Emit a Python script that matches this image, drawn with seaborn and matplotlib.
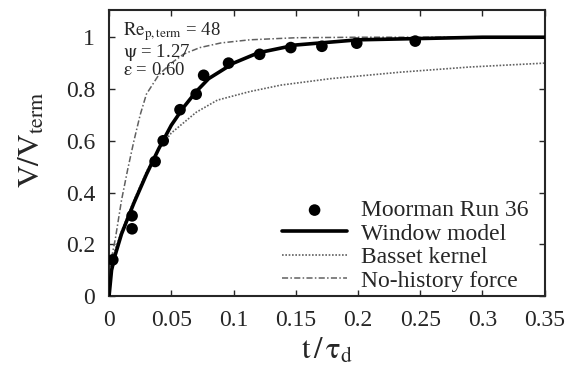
import matplotlib
matplotlib.use("Agg")
import matplotlib.pyplot as plt
import seaborn as sns
import pandas as pd

# Moorman Run 36 data
exp_t = [0.003, 0.0185, 0.0185, 0.037, 0.0435, 0.057, 0.070, 0.076, 0.096, 0.121, 0.146, 0.171, 0.199, 0.246]
exp_v = [0.14, 0.31, 0.26, 0.52, 0.60, 0.72, 0.78, 0.853, 0.90, 0.934, 0.96, 0.965, 0.977, 0.985]

# Window model
win_t = [0, 0.002, 0.005, 0.01, 0.015, 0.02, 0.03, 0.04, 0.05, 0.06, 0.07, 0.08, 0.1, 0.12, 0.15, 0.2, 0.25, 0.3, 0.35]
win_v = [0, 0.10, 0.16, 0.24, 0.30, 0.36, 0.47, 0.57, 0.66, 0.73, 0.79, 0.84, 0.90, 0.94, 0.97, 0.99, 0.995, 1.0, 1.0]

# Basset kernel
bas_t = [0, 0.005, 0.01, 0.02, 0.03, 0.04, 0.05, 0.06, 0.07, 0.087, 0.113, 0.138, 0.154, 0.178, 0.234, 0.29, 0.35]
bas_v = [0.1, 0.18, 0.25, 0.37, 0.48, 0.57, 0.63, 0.67, 0.71, 0.757, 0.79, 0.815, 0.825, 0.84, 0.865, 0.885, 0.90]

# No-history force
noh_t = [0, 0.005, 0.01, 0.015, 0.02, 0.025, 0.03, 0.04, 0.05, 0.06, 0.073, 0.09, 0.113, 0.15, 0.2, 0.35]
noh_v = [0.1, 0.22, 0.37, 0.49, 0.60, 0.70, 0.78, 0.855, 0.90, 0.935, 0.96, 0.978, 0.99, 0.998, 1.0, 1.0]

xticks = [0, 0.05, 0.1, 0.15, 0.2, 0.25, 0.3, 0.35]
xticklabels = ["0", "0.05", "0.1", "0.15", "0.2", "0.25", "0.3", "0.35"]
yticks = [0, 0.2, 0.4, 0.6, 0.8, 1.0]
yticklabels = ["0", "0.2", "0.4", "0.6", "0.8", "1"]

sns.set_theme(style="ticks")
plt.rcParams["font.family"] = ["Liberation Serif", "DejaVu Serif"]
plt.rcParams["mathtext.fontset"] = "stix"

fig = plt.figure(figsize=(5.77, 3.72), dpi=100)
ax = fig.add_axes([0.189, 0.204, 0.755, 0.769])

sns.lineplot(x=noh_t, y=noh_v, ax=ax, color="#606060", lw=1.1, linestyle=(0, (4, 1.5, 1, 1.5)), label="No-history force", zorder=2)
sns.lineplot(x=bas_t, y=bas_v, ax=ax, color="#606060", lw=1.2, linestyle=(0, (1, 1)), label="Basset kernel", zorder=2)
sns.lineplot(x=win_t, y=win_v, ax=ax, color="black", lw=2.6, label="Window model", zorder=3)
sns.scatterplot(x=exp_t, y=exp_v, ax=ax, color="black", s=70, edgecolor="none", label="Moorman Run 36", zorder=4)

ax.set_xlim(0, 0.35)
ax.set_ylim(0, 1.105)
ax.set_xticks(xticks)
ax.set_xticklabels(xticklabels)
ax.set_yticks(yticks)
ax.set_yticklabels(yticklabels)
ax.tick_params(direction="in", length=4, width=1, top=True, right=True, labelsize=17)
ax.tick_params(axis="x", pad=10)
ax.tick_params(axis="y", pad=10)
for sp in ax.spines.values():
    sp.set_linewidth(1.5)
    sp.set_visible(True)

ax.set_xlabel(r"$\mathrm{t\,/\,\tau_d}$", fontsize=22, labelpad=4)
ax.set_ylabel(r"$\mathrm{V/V_{term}}$", fontsize=22.5)
ax.yaxis.set_label_coords(-0.143, 0.545)

ax.text(0.0115, 1.065, r"$\mathrm{Re_{p,term}}$ = 48", fontsize=13.5, va="top", ha="left")
ax.text(0.0115, 0.98, r"$\mathrm{\psi}$ = 1.27", fontsize=13.5, va="top", ha="left")
ax.text(0.0115, 0.905, r"$\mathrm{\varepsilon}$ = 0.60", fontsize=13.5, va="top", ha="left")

handles, labels = ax.get_legend_handles_labels()
order = ["Moorman Run 36", "Window model", "Basset kernel", "No-history force"]
hl = {l: h for h, l in zip(handles, labels)}
ax.legend([hl[o] for o in order], order, loc="lower right", frameon=False,
          fontsize=17, handlelength=2.75, handletextpad=0.6, labelspacing=0.08,
          borderaxespad=0.0, bbox_to_anchor=(0.985, -0.017))

fig.savefig("out.png", dpi=100)
